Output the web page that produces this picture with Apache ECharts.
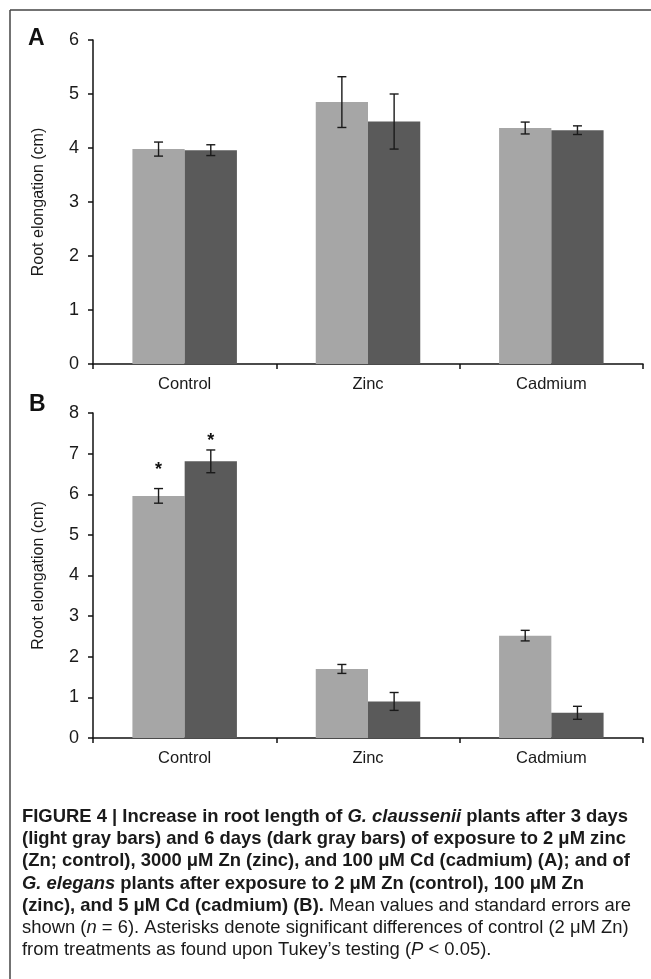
<!DOCTYPE html>
<html>
<head>
<meta charset="utf-8">
<script src="https://cdn.jsdelivr.net/npm/echarts@6/dist/echarts.min.js"></script>
<style>
html, body { margin: 0; padding: 0; background: #fff; }
#chart { width: 651px; height: 979px; }
</style>
</head>
<body>
<div id="chart"></div>
<script>
const categories = ['Control', 'Zinc', 'Cadmium']

// Panel A: G. claussenii, 3 days (light) and 6 days (dark)
const meanA3 = [3.98, 4.85, 4.37]
const seA3 = [0.13, 0.47, 0.11]
const meanA6 = [3.96, 4.49, 4.33]
const seA6 = [0.10, 0.51, 0.08]

// Panel B: G. elegans
const meanB3 = [5.96, 1.70, 2.52]
const seB3 = [0.18, 0.11, 0.13]
const meanB6 = [6.81, 0.90, 0.62]
const seB6 = [0.28, 0.22, 0.16]

// asterisk heights (cm) above the control bars
const starB3 = [6.6, null, null]
const starB6 = [7.3, null, null]

const yRangeA = { min: 0, max: 6, interval: 1 }
const yRangeB = { min: 0, max: 8, interval: 1 }

const FONT = '"Liberation Sans", Arial, sans-serif'
const LIGHT = '#a6a6a6'
const DARK = '#5a5a5a'
const INK = '#111'
const BAR_FRAC = 0.285 // share of a category taken by one bar

const caption = [
  [['b', 'FIGURE 4 | Increase in root length of '], ['bi', 'G. claussenii'], ['b', ' plants after 3 days']],
  [['b', '(light gray bars) and 6 days (dark gray bars) of exposure to 2 \u03bcM zinc']],
  [['b', '(Zn; control), 3000 \u03bcM Zn (zinc), and 100 \u03bcM Cd (cadmium) (A); and of']],
  [['bi', 'G. elegans'], ['b', ' plants after exposure to 2 \u03bcM Zn (control), 100 \u03bcM Zn']],
  [['b', '(zinc), and 5 \u03bcM Cd (cadmium) (B).'], ['r', ' Mean values and standard errors are']],
  [['r', 'shown ('], ['i', 'n'], ['r', ' = 6). Asterisks denote significant differences of control (2 \u03bcM Zn)']],
  [['r', 'from treatments as found upon Tukey\u2019s testing ('], ['i', 'P'], ['r', ' < 0.05).']],
]

const CAP_SIZE = 18.5
const capFonts = {
  b: 'bold ' + CAP_SIZE + 'px ' + FONT,
  bi: 'italic bold ' + CAP_SIZE + 'px ' + FONT,
  r: CAP_SIZE + 'px ' + FONT,
  i: 'italic ' + CAP_SIZE + 'px ' + FONT,
}

function lineWidth(line) {
  const ctx = document.createElement('canvas').getContext('2d')
  return line.reduce((w, [s, t]) => { ctx.font = capFonts[s]; return w + ctx.measureText(t).width }, 0)
}

function xAxis(grid) {
  return {
    type: 'category', gridIndex: grid, data: categories,
    axisLine: { lineStyle: { color: INK, width: 1.5 } },
    axisTick: { show: true, length: 5, lineStyle: { color: INK, width: 1.5 } },
    axisLabel: { color: '#1a1a1a', fontSize: 16.5, margin: 12, fontFamily: FONT },
  }
}

function yAxis(grid, range) {
  return {
    type: 'value', gridIndex: grid, ...range,
    name: 'Root elongation (cm)', nameLocation: 'middle', nameGap: 46,
    nameTextStyle: { color: '#1a1a1a', fontSize: 16, fontFamily: FONT },
    axisLine: { show: true, lineStyle: { color: INK, width: 1.5 } },
    axisTick: { show: true, length: 5, lineStyle: { color: INK, width: 1.5 } },
    axisLabel: { color: '#1a1a1a', fontSize: 18, margin: 14, fontFamily: FONT },
    splitLine: { show: false },
  }
}

function barSeries(grid, values, color) {
  return {
    type: 'bar', xAxisIndex: grid, yAxisIndex: grid, data: values,
    barGap: '0%', barCategoryGap: '43%',
    itemStyle: { color },
  }
}

function errorSeries(grid, means, ses, slot) {
  return {
    type: 'custom', xAxisIndex: grid, yAxisIndex: grid, z: 5,
    data: means.map((m, i) => [i, m - ses[i], m + ses[i]]),
    encode: { x: 0, y: [1, 2] },
    renderItem: (params, api) => {
      const bw = api.size([1, 0])[0] * BAR_FRAC
      const lo = api.coord([api.value(0), api.value(1)])
      const hi = api.coord([api.value(0), api.value(2)])
      const x = lo[0] + (slot - 0.5) * bw
      const style = { stroke: '#1a1a1a', lineWidth: 1.4 }
      return {
        type: 'group',
        children: [
          { type: 'line', shape: { x1: x, y1: hi[1], x2: x, y2: lo[1] }, style },
          { type: 'line', shape: { x1: x - 4.5, y1: hi[1], x2: x + 4.5, y2: hi[1] }, style },
          { type: 'line', shape: { x1: x - 4.5, y1: lo[1], x2: x + 4.5, y2: lo[1] }, style },
        ],
      }
    },
  }
}

function starSeries(grid, ys, slot) {
  return {
    type: 'custom', xAxisIndex: grid, yAxisIndex: grid, z: 6,
    data: ys.map((y, i) => [i, y]).filter(d => d[1] != null),
    encode: { x: 0, y: 1 },
    renderItem: (params, api) => {
      const bw = api.size([1, 0])[0] * BAR_FRAC
      const p = api.coord([api.value(0), api.value(1)])
      return {
        type: 'text', x: p[0] + (slot - 0.5) * bw, y: p[1],
        style: {
          text: '*', fill: INK, font: 'bold 18px ' + FONT,
          align: 'center', verticalAlign: 'middle', textAlign: 'center', textVerticalAlign: 'middle',
        },
      }
    },
  }
}

const capScale = 606 / lineWidth(caption[0])
const rich = {}
Object.keys(capFonts).forEach(k => {
  rich[k] = {
    fontSize: CAP_SIZE, fontFamily: FONT, fill: '#1a1a1a',
    fontWeight: k.startsWith('b') ? 'bold' : 'normal',
    fontStyle: k.endsWith('i') ? 'italic' : 'normal',
  }
})

const chart = echarts.init(document.getElementById('chart'), null, { renderer: 'canvas' })
chart.setOption({
  animation: false,
  backgroundColor: '#fff',
  grid: [
    { left: 93, right: 8, top: 40, height: 324 },
    { left: 93, right: 8, top: 413, height: 325 },
  ],
  xAxis: [xAxis(0), xAxis(1)],
  yAxis: [yAxis(0, yRangeA), yAxis(1, yRangeB)],
  series: [
    barSeries(0, meanA3, LIGHT), barSeries(0, meanA6, DARK),
    barSeries(1, meanB3, LIGHT), barSeries(1, meanB6, DARK),
    errorSeries(0, meanA3, seA3, 0), errorSeries(0, meanA6, seA6, 1),
    errorSeries(1, meanB3, seB3, 0), errorSeries(1, meanB6, seB6, 1),
    starSeries(1, starB3, 0), starSeries(1, starB6, 1),
  ],
  graphic: [
    { type: 'line', shape: { x1: 10, y1: 10, x2: 651, y2: 10 }, style: { stroke: '#444', lineWidth: 1.5 } },
    { type: 'line', shape: { x1: 10, y1: 10, x2: 10, y2: 979 }, style: { stroke: '#444', lineWidth: 1.5 } },
    { type: 'text', x: 28, y: 39, style: { text: 'A', font: 'bold 23px ' + FONT, fill: INK, verticalAlign: 'middle' } },
    { type: 'text', x: 29, y: 405, style: { text: 'B', font: 'bold 23px ' + FONT, fill: INK, verticalAlign: 'middle' } },
    {
      type: 'group', x: 22, y: 817, scaleX: capScale,
      children: caption.map((line, i) => ({
        type: 'text', x: 0, y: i * 22.2,
        style: {
          text: line.map(([s, t]) => '{' + s + '|' + t + '}').join(''),
          rich, verticalAlign: 'middle',
        },
      })),
    },
  ],
})
</script>
</body>
</html>
